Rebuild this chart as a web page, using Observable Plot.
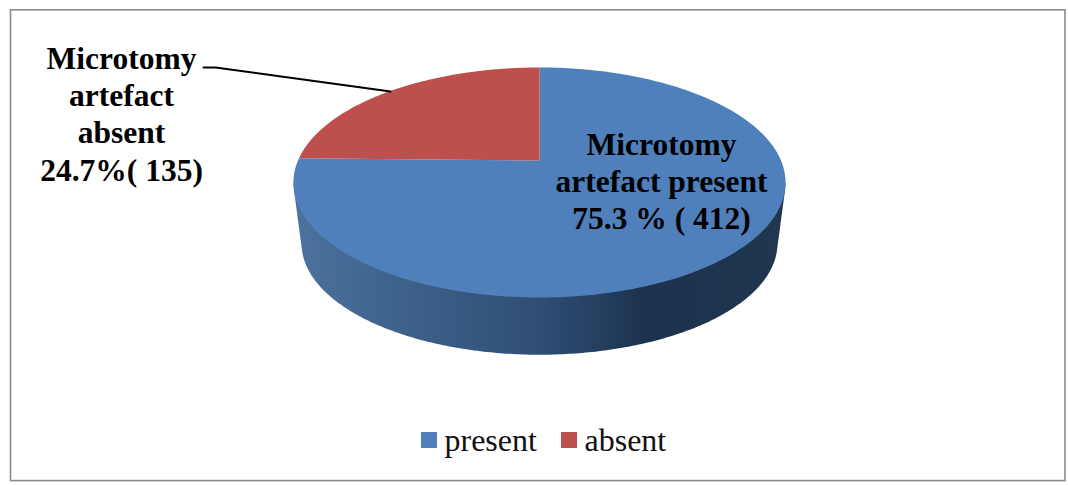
<!DOCTYPE html>
<html>
<head>
<meta charset="utf-8">
<script src="https://cdn.jsdelivr.net/npm/d3@7"></script>
<script src="https://cdn.jsdelivr.net/npm/@observablehq/plot@0.6"></script>
<style>
  html, body { margin: 0; padding: 0; background: #fff; }
  svg { display: block; }
</style>
</head>
<body>
<script>
// Microtomy artefact counts
const categories = ["present", "absent"];
const counts = [412, 135];
const sliceColors = ["#4f80bc", "#bd4f4c"];

// Side wall shading, left to right
const wallOffsets = ["0%", "17%", "50%", "72%", "100%"];
const wallColors = ["#4c729f", "#40658f", "#2f4e74", "#1c324e", "#20374f"];

const total = d3.sum(counts);
const pct = (i) => (100 * counts[i] / total).toFixed(1);

const labelTexts = [
  `Microtomy\nartefact present\n${pct(0)} % ( ${counts[0]})`,
  `Microtomy\nartefact\nabsent\n${pct(1)}%( ${counts[1]})`
];
const labelX = [661, 121];
const labelY = [179.5, 112.5];
const leaderX = [203, 215, 390];
const leaderY = [67, 67, 91];

const legendSwatchX = [421, 561];
const legendTextX = [445, 585];
const legendY = 440;

// Tilted disc: perspective map of the unit circle onto the page
const cx = 539, apexY = 160, persp = 0.1913, spreadX = 241.5, spreadY = -80.2;
const topPoint = (angle) => {
  const u = Math.sin(angle), v = Math.cos(angle), w = persp * v + 1;
  return {x: cx + spreadX * u / w, y: (spreadY * v + apexY) / w};
};
// The underside is the same disc, a little smaller and lower down
const bottomPoint = (angle) => {
  const p = topPoint(angle);
  return {x: cx + 0.967 * (p.x - cx), y: 243 + 0.967 * (p.y - 182)};
};

const arcs = d3.pie().sort(null)(counts);
const sweep = (a0, a1, f) => d3.range(0, 241).map((k) => f(a0 + (a1 - a0) * k / 240));

const slices = arcs.map((a) => [
  {x: cx, y: apexY},
  ...sweep(a.startAngle, a.endAngle, topPoint)
]);

// Front half of the rim, from widest point to widest point, through the near side
const frontFrom = Math.PI / 2 + Math.asin(persp);
const frontTo = 2 * Math.PI - frontFrom;
const wallHull = d3.polygonHull([
  ...sweep(frontFrom, frontTo, topPoint),
  ...sweep(frontFrom, frontTo, bottomPoint)
].map((p) => [p.x, p.y]));

const wallGradient = () => {
  const defs = d3.create("svg:defs");
  const g = defs.append("linearGradient")
    .attr("id", "wall-shade")
    .attr("gradientUnits", "userSpaceOnUse")
    .attr("x1", 293).attr("x2", 785).attr("y1", 0).attr("y2", 0);
  wallOffsets.forEach((o, i) => g.append("stop").attr("offset", o).attr("stop-color", wallColors[i]));
  return defs.node();
};

const serif = "'Liberation Serif', 'Times New Roman', serif";
const legendRows = categories.map((name, i) => ({name, i}));

const chart = Plot.plot({
  width: 1068,
  height: 485,
  margin: 0,
  x: {domain: [0, 1068], range: [0, 1068], axis: null},
  y: {domain: [0, 485], range: [0, 485], axis: null},
  style: {background: "#fff", fontFamily: serif},
  marks: [
    wallGradient,
    Plot.rect([0], {x1: 10.5, x2: 1065, y1: 9.8, y2: 480.6, fill: "#fff", stroke: "#8c8c8c", strokeWidth: 1.6}),
    Plot.line(wallHull, {x: (d) => d[0], y: (d) => d[1], fill: "url(#wall-shade)", stroke: "none", curve: "linear-closed"}),
    ...slices.map((pts, i) => Plot.line(pts, {x: "x", y: "y", fill: sliceColors[i], stroke: "none", curve: "linear-closed"})),
    Plot.line(leaderX.map((x, i) => ({x, y: leaderY[i]})), {x: "x", y: "y", stroke: "#000", strokeWidth: 2, curve: "linear"}),
    Plot.text(labelTexts, {
      x: (d, i) => labelX[i],
      y: (d, i) => labelY[i],
      text: (d) => d,
      fontSize: 31.5,
      fontWeight: "bold",
      fill: "#000",
      lineHeight: 1.18,
      textAnchor: "middle",
      lineAnchor: "middle"
    }),
    Plot.rect(legendRows, {
      x1: (d) => legendSwatchX[d.i],
      x2: (d) => legendSwatchX[d.i] + 16,
      y1: legendY - 8,
      y2: legendY + 8,
      fill: (d) => sliceColors[d.i]
    }),
    Plot.text(legendRows, {
      x: (d) => legendTextX[d.i] - 1,
      y: legendY,
      text: "name",
      fontSize: 32,
      fill: "#111",
      textAnchor: "start",
      lineAnchor: "middle"
    })
  ]
});
document.body.appendChild(chart);
</script>
</body>
</html>
